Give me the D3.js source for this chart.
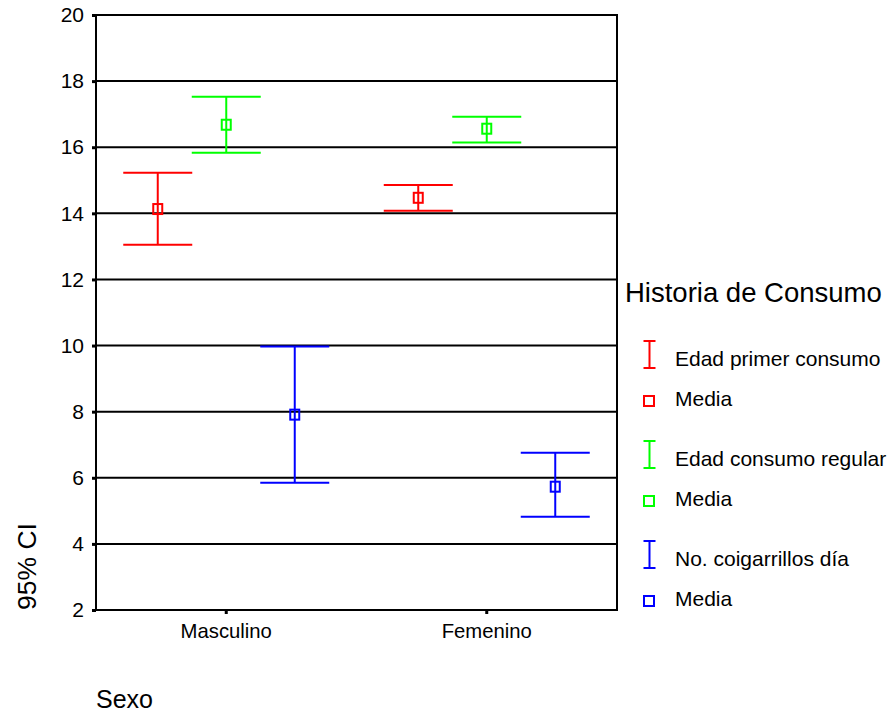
<!DOCTYPE html>
<html>
<head>
<meta charset="utf-8">
<script src="https://cdn.jsdelivr.net/npm/d3@7"></script>
<style>
  html, body { margin: 0; padding: 0; background: #fff; }
  svg { display: block; font-family: "Liberation Sans", Arial, sans-serif; }
</style>
</head>
<body>
<svg id="chart" width="893" height="715"></svg>
<script>
// ---- data ----
const categories = ["Masculino", "Femenino"];
const seriesNames = ["Edad primer consumo", "Edad consumo regular", "No. coigarrillos día"];
const seriesColors = ["#ff0000", "#00ff00", "#0000ff"];
// per series: [Masculino, Femenino]
const meanValues = [
  [14.13, 14.47],
  [16.68, 16.56],
  [7.91, 5.73]
];
const lowerValues = [
  [13.05, 14.08],
  [15.83, 16.14],
  [5.85, 4.82]
];
const upperValues = [
  [15.23, 14.86],
  [17.53, 16.92],
  [9.97, 6.76]
];
const yTicks = [2, 4, 6, 8, 10, 12, 14, 16, 18, 20];
const legendTitle = "Historia de Consumo";
const meanLabel = "Media";
const xTitle = "Sexo";
const yTitle = "95% CI";

(function () {
const svg = d3.select("#chart");
const pL = 96, pR = 617, pT = 15, pB = 610;
const FONT = '"Liberation Sans", Arial, sans-serif';

const x = d3.scaleBand().domain(categories).range([pL, pR]).padding(0);
const inner = d3.scalePoint().domain(d3.range(seriesNames.length))
  .range([x.bandwidth() / 2 - 68.5, x.bandwidth() / 2 + 68.5]);
const y = d3.scaleLinear().domain([2, 20]).range([pB, pT]);

// gridlines
svg.append("g").selectAll("line").data(yTicks.filter(d => d > 2)).join("line")
  .attr("x1", pL).attr("x2", pR)
  .attr("y1", d => y(d)).attr("y2", d => y(d))
  .attr("stroke", "#000").attr("stroke-width", 2);

// right frame
svg.append("line").attr("x1", pR).attr("x2", pR).attr("y1", y(20) - 1).attr("y2", pB + 1)
  .attr("stroke", "#000").attr("stroke-width", 2);

// y axis
const yAxis = svg.append("g").attr("transform", `translate(${pL},0)`)
  .call(d3.axisLeft(y).tickValues(yTicks).tickFormat(d3.format("d")).tickSize(4).tickPadding(8));
yAxis.select(".domain").attr("stroke", "#000").attr("stroke-width", 2)
  .attr("d", `M0,${pT - 1}V${pB + 1}`);
yAxis.selectAll(".tick line").attr("stroke", "#000").attr("stroke-width", 3);
yAxis.selectAll(".tick text").attr("font-size", 21).attr("fill", "#000").style("font-family", FONT);

// x axis
const xAxis = svg.append("g").attr("transform", `translate(0,${pB})`)
  .call(d3.axisBottom(x).tickSize(4).tickPadding(10));
xAxis.select(".domain").attr("stroke", "#000").attr("stroke-width", 2)
  .attr("d", `M${pL - 1},0H${pR + 1}`);
xAxis.selectAll(".tick line").attr("stroke", "#000").attr("stroke-width", 3);
xAxis.selectAll(".tick text").attr("font-size", 20.3).attr("fill", "#000").style("font-family", FONT);

// error bars
const capHalf = 34.5;
const points = [];
seriesNames.forEach((s, si) => {
  categories.forEach((c, ci) => {
    points.push({ si, c, mean: meanValues[si][ci], lo: lowerValues[si][ci], hi: upperValues[si][ci] });
  });
});
const g = svg.append("g");
const eb = g.selectAll("g.eb").data(points).join("g").attr("class", "eb")
  .attr("transform", d => `translate(${x(d.c) + inner(d.si)},0)`);
eb.append("line").attr("x1", 0).attr("x2", 0)
  .attr("y1", d => y(d.hi)).attr("y2", d => y(d.lo))
  .attr("stroke", d => seriesColors[d.si]).attr("stroke-width", 2);
eb.append("line").attr("x1", -capHalf).attr("x2", capHalf)
  .attr("y1", d => y(d.hi)).attr("y2", d => y(d.hi))
  .attr("stroke", d => seriesColors[d.si]).attr("stroke-width", 2);
eb.append("line").attr("x1", -capHalf).attr("x2", capHalf)
  .attr("y1", d => y(d.lo)).attr("y2", d => y(d.lo))
  .attr("stroke", d => seriesColors[d.si]).attr("stroke-width", 2);
eb.append("rect").attr("x", -4.5).attr("width", 9)
  .attr("y", d => y(d.mean) - 5).attr("height", 10)
  .attr("fill", "none").attr("stroke", d => seriesColors[d.si]).attr("stroke-width", 2);

// legend
const lg = svg.append("g");
lg.append("text").attr("x", 625).attr("y", 302).attr("font-size", 27.5).attr("fill", "#000").text(legendTitle);
seriesNames.forEach((s, i) => {
  const oy = i * 100;
  const col = seriesColors[i];
  const ic = lg.append("g").attr("transform", `translate(649.5,${oy})`);
  ic.append("line").attr("x1", 0).attr("x2", 0).attr("y1", 341).attr("y2", 368).attr("stroke", col).attr("stroke-width", 2);
  ic.append("line").attr("x1", -6).attr("x2", 6).attr("y1", 341).attr("y2", 341).attr("stroke", col).attr("stroke-width", 2);
  ic.append("line").attr("x1", -6).attr("x2", 6).attr("y1", 368).attr("y2", 368).attr("stroke", col).attr("stroke-width", 2);
  lg.append("text").attr("x", 675).attr("y", 366 + oy).attr("font-size", 21).attr("fill", "#000").text(s);
  lg.append("rect").attr("x", 644).attr("y", 396 + oy).attr("width", 10).attr("height", 10)
    .attr("fill", "none").attr("stroke", col).attr("stroke-width", 2);
  lg.append("text").attr("x", 675).attr("y", 406 + oy).attr("font-size", 21).attr("fill", "#000").text(meanLabel);
});

// axis titles
svg.append("text").attr("x", 96).attr("y", 708).attr("font-size", 25).attr("fill", "#000").text(xTitle);
svg.append("text").attr("transform", "translate(36,610) rotate(-90)").attr("font-size", 26.5).attr("fill", "#000").text(yTitle);
})();
</script>
</body>
</html>
